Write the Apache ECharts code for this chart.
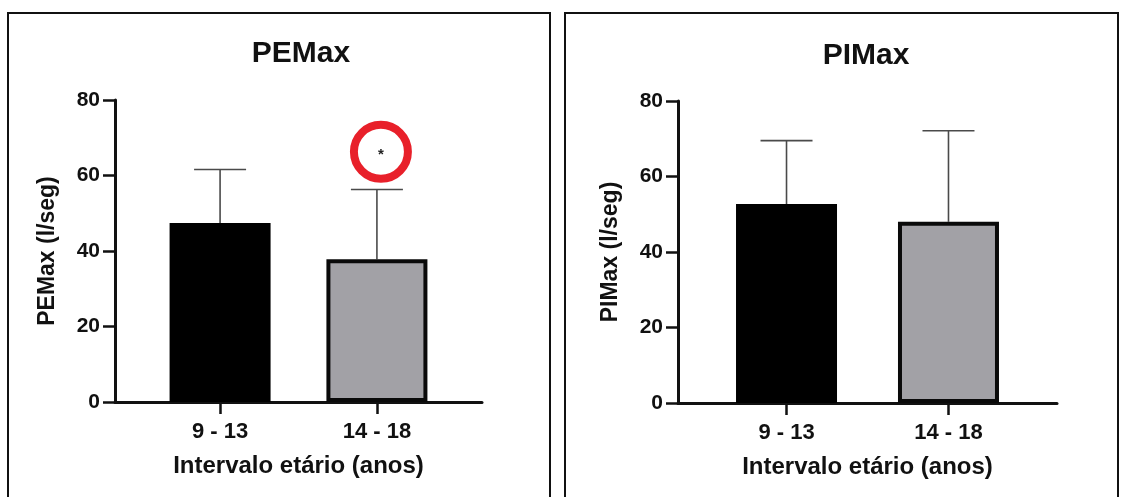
<!DOCTYPE html>
<html>
<head>
<meta charset="utf-8">
<script src="https://cdn.jsdelivr.net/npm/echarts@6/dist/echarts.min.js"></script>
<style>
html,body{margin:0;padding:0;background:#fff;}
#c{width:1121px;height:497px;}
</style>
</head>
<body>
<div id="c"></div>
<script>
// ---- data ----
const categories = ['9 - 13', '14 - 18'];
const categoryPos = [0, 1];
const pemaxMean = [47.4, 37.8];
const pemaxSD = [14.2, 18.5];
const pimaxMean = [52.7, 48.0];
const pimaxSD = [16.8, 24.1];
const yTicks = [0, 20, 40, 60, 80];
const sigMark = [1, 66]; // asterisk over 14 - 18 (PEMax)
const titles = ['PEMax', 'PIMax'];
const yNames = ['PEMax (l/seg)', 'PIMax (l/seg)'];
const xName = 'Intervalo etário (anos)';

const FONT = '"Liberation Sans", Arial, sans-serif';
const barColors = ['#000000', '#a2a1a6'];

const chart = echarts.init(document.getElementById('c'));

function xAxisDef(gi) {
  return {
    type: 'value', gridIndex: gi, min: -0.67, max: 1.67,
    splitLine: {show: false},
    axisLine: {show: true, onZero: false, lineStyle: {color: '#111', width: 3}},
    axisTick: {show: true, customValues: categoryPos, length: 12, lineStyle: {color: '#111', width: 2.5}},
    axisLabel: {show: true, customValues: categoryPos, formatter: v => categories[Math.round(v)],
      margin: 19, color: '#111', fontFamily: FONT, fontWeight: 'bold', fontSize: 22},
    name: xName, nameLocation: 'middle', nameGap: 52,
    nameTextStyle: {color: '#111', fontFamily: FONT, fontWeight: 'bold', fontSize: 24}
  };
}
function yAxisDef(gi) {
  return {
    type: 'value', gridIndex: gi, min: yTicks[0], max: yTicks[yTicks.length - 1], interval: yTicks[1] - yTicks[0],
    splitLine: {show: false},
    axisLine: {show: true, onZero: false, lineStyle: {color: '#111', width: 3}},
    axisTick: {show: true, length: 12, lineStyle: {color: '#111', width: 2.5}},
    axisLabel: {margin: 15, color: '#111', fontFamily: FONT, fontWeight: 'bold', fontSize: 21},
    name: yNames[gi], nameLocation: 'middle', nameGap: 56,
    nameTextStyle: {color: '#111', fontFamily: FONT, fontWeight: 'bold', fontSize: 23}
  };
}
function barSeries(gi, means) {
  return {
    type: 'bar', xAxisIndex: gi, yAxisIndex: gi, z: 3,
    barWidth: 101,
    data: means.map((m, i) => ({
      value: [categoryPos[i], m],
      itemStyle: i === 0 ? {color: barColors[0], borderWidth: 0}
                         : {color: barColors[1], borderColor: '#0a0a0a', borderWidth: 4}
    }))
  };
}
function errSeries(gi, means, sds) {
  return {
    type: 'custom', xAxisIndex: gi, yAxisIndex: gi, z: 2,
    data: means.map((m, i) => [categoryPos[i], m, m + sds[i]]),
    renderItem: function (params, api) {
      const base = api.coord([api.value(0), api.value(1)]);
      const top = api.coord([api.value(0), api.value(2)]);
      const style = {stroke: '#4a4a4a', lineWidth: 1.6};
      return {
        type: 'group',
        children: [
          {type: 'line', shape: {x1: base[0], y1: base[1], x2: top[0], y2: top[1]}, style: style},
          {type: 'line', shape: {x1: top[0] - 26, y1: top[1], x2: top[0] + 26, y2: top[1]}, style: style}
        ]
      };
    }
  };
}

const option = {
  backgroundColor: '#fff',
  animation: false,
  title: [
    {text: titles[0], left: 296, top: 34, textAlign: 'center',
     textStyle: {fontFamily: FONT, fontWeight: 'bold', fontSize: 30, color: '#111'}},
    {text: titles[1], left: 861, top: 36, textAlign: 'center',
     textStyle: {fontFamily: FONT, fontWeight: 'bold', fontSize: 30, color: '#111'}}
  ],
  graphic: [
    {type: 'rect', shape: {x: 8, y: 13, width: 542, height: 500}, style: {fill: 'none', stroke: '#111', lineWidth: 2}},
    {type: 'rect', shape: {x: 565, y: 13, width: 553, height: 500}, style: {fill: 'none', stroke: '#111', lineWidth: 2}}
  ],
  grid: [
    {left: 115, top: 100, width: 367, height: 302},
    {left: 678, top: 101, width: 379, height: 302}
  ],
  xAxis: [xAxisDef(0), xAxisDef(1)],
  yAxis: [yAxisDef(0), yAxisDef(1)],
  series: [
    errSeries(0, pemaxMean, pemaxSD),
    barSeries(0, pemaxMean),
    errSeries(1, pimaxMean, pimaxSD),
    barSeries(1, pimaxMean),
    {
      type: 'scatter', xAxisIndex: 0, yAxisIndex: 0, z: 5,
      data: [sigMark],
      symbol: 'circle', symbolSize: 54, symbolOffset: [4, -1],
      itemStyle: {color: 'rgba(0,0,0,0)', borderColor: '#e8202a', borderWidth: 8, opacity: 1},
      label: {show: true, position: 'inside', formatter: '*', offset: [0, 3],
        color: '#222', fontFamily: FONT, fontSize: 15, fontWeight: 'bold'}
    }
  ]
};
chart.setOption(option);
</script>
</body>
</html>
